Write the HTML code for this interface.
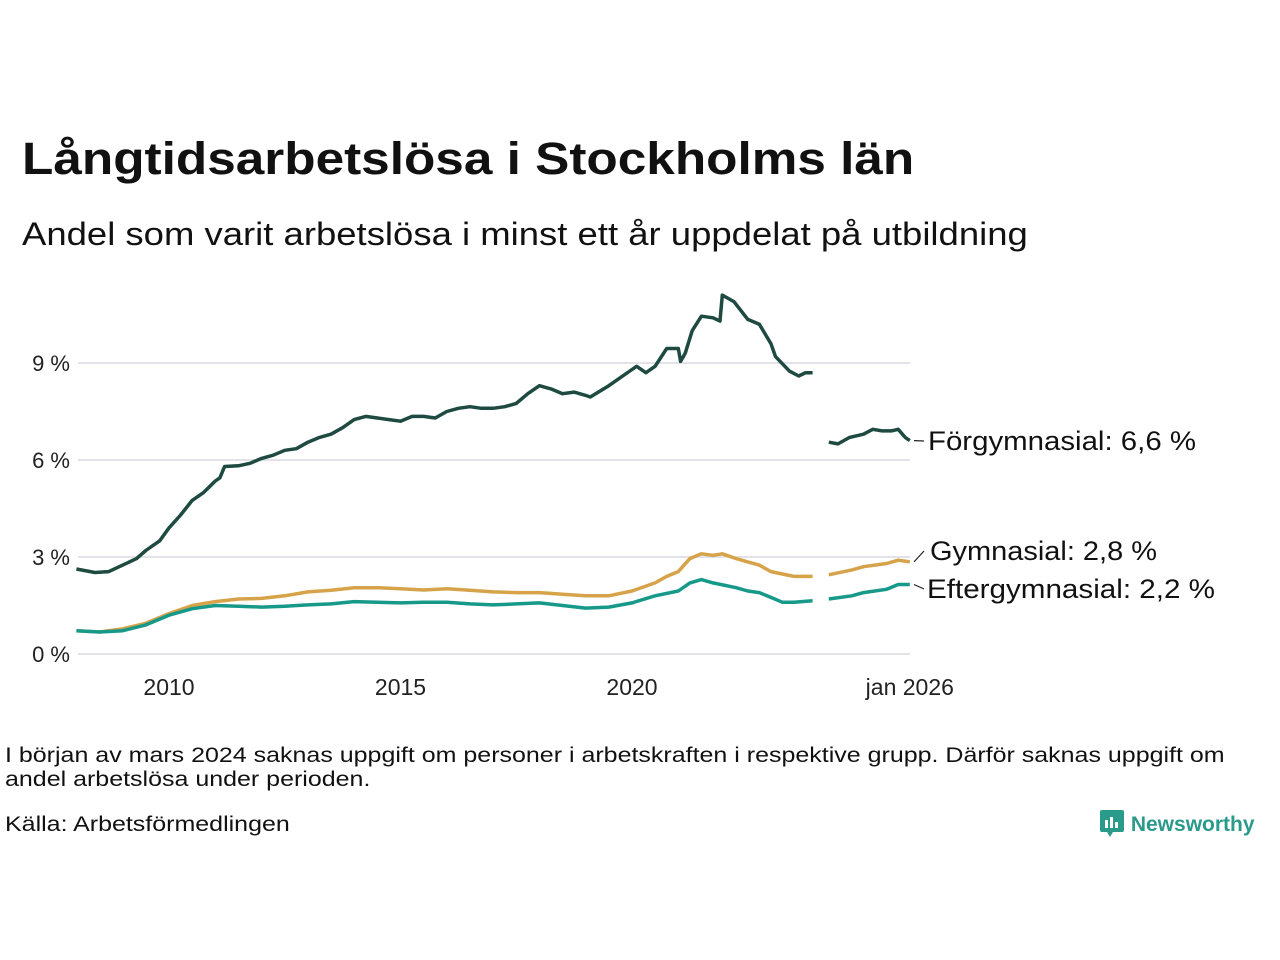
<!DOCTYPE html>
<html><head><meta charset="utf-8"><style>
body{margin:0;width:1280px;height:960px;background:#fff;font-family:"Liberation Sans",sans-serif;color:#111;position:relative;overflow:hidden}
.t{position:absolute;white-space:nowrap;transform-origin:0 0}
</style></head><body>
<div class="t" style="left:22px;top:133px;font-size:45px;font-weight:bold;transform:scaleX(1.14)">Långtidsarbetslösa i Stockholms län</div>
<div class="t" style="left:22px;top:216px;font-size:32px;transform:scaleX(1.14)">Andel som varit arbetslösa i minst ett år uppdelat på utbildning</div>
<svg id="chart" width="1280" height="720" style="position:absolute;left:0;top:0"></svg>
<div class="t" style="left:5px;top:744px;font-size:21px;line-height:24px;transform:scaleX(1.19)">I början av mars 2024 saknas uppgift om personer i arbetskraften i respektive grupp. Därför saknas uppgift om<br>andel arbetslösa under perioden.</div>
<div class="t" style="left:5px;top:813px;font-size:21px;transform:scaleX(1.19)">Källa: Arbetsförmedlingen</div>
<div class="t" style="left:1099px;top:808px;font-size:21px;font-weight:bold;color:#2a9a8a">
<svg width="26" height="30" style="vertical-align:-7px"><rect x="1" y="2" width="24" height="22" rx="2" fill="#2a9a8a"/><polygon points="8,24 14,24 11,29" fill="#2a9a8a"/><rect x="6" y="12" width="3" height="8" fill="#fff"/><rect x="11" y="9" width="3" height="11" fill="#fff"/><rect x="16" y="14" width="3" height="6" fill="#fff"/></svg> Newsworthy</div>
<script>
const yTicks=[0,3,6,9];
const yTickLabels=["0 %","3 %","6 %","9 %"];
const xTicks=[2010,2015,2020,2026];
const xTickLabels=["2010","2015","2020","jan 2026"];
const forX=[2008.0,2008.4,2008.7,2009.0,2009.3,2009.5,2009.8,2010.0,2010.25,2010.5,2010.75,2011.0,2011.1,2011.2,2011.5,2011.75,2012.0,2012.25,2012.5,2012.75,2013.0,2013.25,2013.5,2013.75,2014.0,2014.25,2014.5,2014.75,2015.0,2015.25,2015.5,2015.75,2016.0,2016.25,2016.5,2016.75,2017.0,2017.25,2017.5,2017.75,2018.0,2018.25,2018.5,2018.75,2019.0,2019.1,2019.5,2020.0,2020.1,2020.3,2020.5,2020.75,2021.0,2021.05,2021.15,2021.3,2021.5,2021.75,2021.9,2021.95,2022.2,2022.5,2022.75,2023.0,2023.1,2023.4,2023.6,2023.75,2023.9,null,2024.25,2024.45,2024.7,2025.0,2025.2,2025.4,2025.6,2025.75,2025.9,2026.0];
const forV=[2.63,2.52,2.55,2.75,2.95,3.2,3.5,3.9,4.3,4.75,5.0,5.35,5.45,5.8,5.82,5.9,6.05,6.15,6.3,6.35,6.55,6.7,6.8,7.0,7.25,7.35,7.3,7.25,7.2,7.35,7.35,7.3,7.5,7.6,7.65,7.6,7.6,7.65,7.75,8.05,8.3,8.2,8.05,8.1,8.0,7.95,8.3,8.8,8.9,8.7,8.9,9.45,9.45,9.05,9.3,10.0,10.45,10.4,10.3,11.1,10.9,10.35,10.2,9.6,9.2,8.75,8.6,8.7,8.7,null,6.55,6.5,6.7,6.8,6.95,6.9,6.9,6.95,6.7,6.6];
const gymX=[2008,2008.5,2009,2009.5,2010,2010.5,2011,2011.5,2012,2012.5,2013,2013.5,2014,2014.5,2015,2015.5,2016,2016.5,2017,2017.5,2018,2018.5,2019,2019.5,2020,2020.5,2020.75,2021,2021.25,2021.5,2021.75,2021.95,2022.25,2022.5,2022.75,2023,2023.5,2023.9,null,2024.25,2024.75,2025,2025.5,2025.75,2026];
const gymV=[0.72,0.68,0.78,0.95,1.25,1.5,1.62,1.7,1.72,1.8,1.92,1.97,2.05,2.05,2.02,1.98,2.02,1.97,1.92,1.9,1.9,1.85,1.8,1.8,1.95,2.2,2.4,2.55,2.95,3.1,3.05,3.1,2.95,2.85,2.75,2.55,2.4,2.4,null,2.45,2.6,2.7,2.8,2.9,2.85];
const eftX=[2008,2008.5,2009,2009.5,2010,2010.5,2011,2011.5,2012,2012.5,2013,2013.5,2014,2014.5,2015,2015.5,2016,2016.5,2017,2017.5,2018,2018.5,2019,2019.5,2020,2020.5,2021,2021.25,2021.5,2021.75,2022.25,2022.5,2022.75,2023,2023.25,2023.5,2023.9,null,2024.25,2024.75,2025,2025.5,2025.75,2026];
const eftV=[0.72,0.68,0.72,0.9,1.2,1.4,1.5,1.48,1.45,1.48,1.52,1.55,1.62,1.6,1.58,1.6,1.6,1.55,1.52,1.55,1.58,1.5,1.42,1.45,1.58,1.8,1.95,2.2,2.3,2.2,2.05,1.95,1.9,1.75,1.6,1.6,1.65,null,1.7,1.8,1.9,2.0,2.15,2.15];
const labels=["Förgymnasial: 6,6 %","Gymnasial: 2,8 %","Eftergymnasial: 2,2 %"];
const X=v=>169+(v-2010)*46.3;
const Y=v=>654-v*32.33;
const svg=document.getElementById('chart');
const NS='http://www.w3.org/2000/svg';
function mk(t,a){const e=document.createElementNS(NS,t);for(const k in a)e.setAttribute(k,a[k]);svg.appendChild(e);return e;}
yTicks.forEach((v,i)=>{
 const g=mk('line',{x1:78,x2:910,y1:Y(v),y2:Y(v),stroke:'#e2e2e8','stroke-width':2});
 
 
 const t=mk('text',{x:70,y:Y(v)+8,'text-anchor':'end','font-size':22,fill:'#222'});
 t.textContent=yTickLabels[i];
 
 
});
xTicks.forEach((v,i)=>{
 const t=mk('text',{x:X(v),y:695,'text-anchor':'middle','font-size':23,fill:'#222'});
 t.textContent=xTickLabels[i];
 
 
});
function line(xs,vs,col,name){
 let d='',pen=false;
 xs.forEach((x,i)=>{if(x===null){pen=false;return;}d+=(pen?'L':'M')+X(x).toFixed(1)+','+Y(vs[i]).toFixed(1);pen=true;});
 const p=mk('path',{d:d,fill:'none',stroke:col,'stroke-width':3.5,'stroke-linejoin':'round'});
 
 
}
line(gymX,gymV,'#d6a34a','series-gymnasial');
line(eftX,eftV,'#17998a','series-eftergymnasial');
line(forX,forV,'#1e4a42','series-forgymnasial');
const ends=[[forV[forV.length-1],441],[gymV[gymV.length-1],551],[eftV[eftV.length-1],589]];
ends.forEach((e,i)=>{
 const l=mk('line',{x1:914,y1:Y(e[0]),x2:924,y2:e[1],stroke:'#222','stroke-width':1.2});
 
 
 const t=mk('text',{x:[928,930,927][i],y:e[1]+9,'font-size':27,fill:'#111',textLength:[268,227,288][i],lengthAdjust:'spacingAndGlyphs'});
 t.textContent=labels[i];
 
 
});
</script>
</body></html>
